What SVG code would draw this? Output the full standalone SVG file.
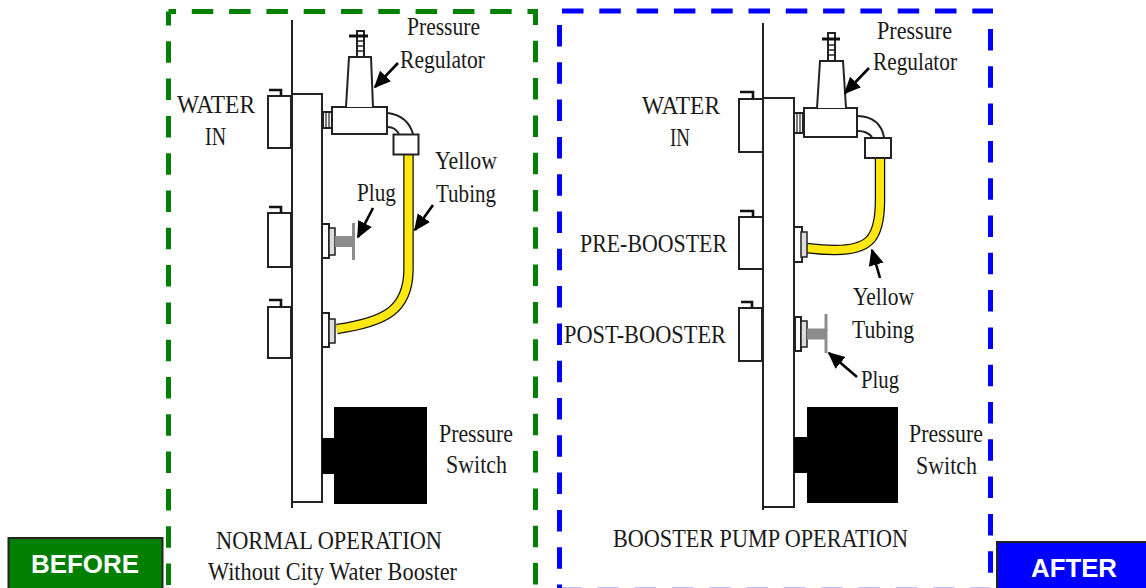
<svg xmlns="http://www.w3.org/2000/svg" width="1146" height="588" viewBox="0 0 1146 588">
<defs>
<marker id="ah" viewBox="0 0 10 10" refX="9" refY="5" markerWidth="6.500" markerHeight="6.500" orient="auto"><path d="M0 0.500L10 5L0 9.500Z" fill="#000"/></marker>
</defs>
<style>
.t{font-family:"Liberation Serif","DejaVu Serif",serif;fill:#1a1a1a;font-size:26px}
.l{fill:#fff;stroke:#222;stroke-width:2}
.g{fill:#ddd;stroke:#222;stroke-width:1.5}
.n{fill:none;stroke:#222;stroke-width:2}
.b{fill:none;stroke:#111;stroke-width:2.600}
.ar{fill:none;stroke:#000;stroke-width:2.600;marker-end:url(#ah)}
.btn{font-family:"Liberation Sans",Arial,sans-serif;font-weight:700;font-size:25px;fill:#fff}
.gd{fill:none;stroke:#008000;stroke-width:5;stroke-dasharray:21.5 15.8}
.bd{fill:none;stroke:#0000ff;stroke-width:5;stroke-dasharray:21.5 15.8}
.ty{fill:none;stroke:#111;stroke-width:10.500}
.ty2{fill:none;stroke:#ffe812;stroke-width:8}
.pg{stroke:#8c8c8c;fill:none}
</style>
<rect width="1146" height="588" fill="#fff"/>
<g id="before-frame">
<path class="gd" stroke-dashoffset="14" d="M168.500 11.500H535.500V600"/>
<path class="gd" stroke-dashoffset="7.500" d="M168.500 11.500V600"/>
</g>
<g id="after-frame">
<path class="bd" d="M562 11H993"/>
<path class="bd" d="M559.500 25V590"/>
<path class="bd" d="M990.500 29V590"/>
<path class="bd" style="stroke-width:5.500" d="M560 590.500H990"/>
</g>

<g id="before-diagram">
<path class="n" d="M292 20V508M292 94H322V502H292"/>
<path class="l" d="M268 96H291V148H268Z"/>
<path class="b" d="M269 90H281V96"/>
<path class="l" d="M268 213H291V267H268Z"/>
<path class="b" d="M269 207H281V213"/>
<path class="l" d="M268 307H291V358H268Z"/>
<path class="b" d="M269 300H281V307"/>
<rect class="l" x="323" y="112" width="9" height="16"/>
<path d="M326 112V128M329 112V128" stroke="#222" stroke-width="1.200"/>
<rect class="l" x="332" y="107" width="55" height="27"/>
<path class="l" d="M346 107L349 57H371L373 107"/>
<rect x="357" y="31" width="7" height="26" fill="#fff" stroke="#222" stroke-width="2"/>
<path d="M357 41H364M357 46H364M357 51H364" stroke="#222" stroke-width="1.500"/>
<path d="M349 36H368" stroke="#111" stroke-width="3"/>
<path class="n" d="M388 113Q408 116 413 134M388 127Q395 127 399 134"/>
<path class="ty" d="M408.500 154V270C408 310 385 322 337 329"/>
<path class="ty2" d="M408.500 154V270C408 310 385 322 337 329"/>
<rect class="l" x="393.500" y="134.500" width="25" height="20"/>
<rect class="l" x="322" y="224" width="7" height="34"/>
<rect class="g" x="329" y="228" width="6" height="27"/>
<path class="pg" stroke-width="11" d="M335 241.500H354"/>
<path class="pg" stroke-width="3" d="M353.500 223V260"/>
<rect class="l" x="322" y="313" width="7" height="34"/>
<rect class="g" x="329" y="319" width="6" height="24"/>
<rect x="334" y="407" width="93" height="97" fill="#000"/>
<rect x="322" y="438" width="13" height="36" fill="#000"/>
</g>

<g id="after-diagram">
<path class="n" d="M763 23V510M763 98H794V507H763"/>
<path class="l" d="M739 99H763V152H739Z"/>
<path class="b" d="M740 92H753V99"/>
<path class="l" d="M739 217H763V269H739Z"/>
<path class="b" d="M740 211H753V217"/>
<path class="l" d="M739 308H762V361H739Z"/>
<path class="b" d="M741 302H752V308"/>
<rect class="l" x="794" y="113" width="9" height="20"/>
<path d="M797 113V133M800 113V133" stroke="#222" stroke-width="1.200"/>
<rect class="l" x="804" y="108" width="53" height="29"/>
<path class="l" d="M817 108L820 61H843L846 108"/>
<rect x="828" y="33" width="7" height="28" fill="#fff" stroke="#222" stroke-width="2"/>
<path d="M828 45H835M828 50H835M828 55H835" stroke="#222" stroke-width="1.500"/>
<path d="M822 39H840" stroke="#111" stroke-width="3"/>
<path class="n" d="M858 116Q880 117 884 137M858 131Q867 131 872 137"/>
<path class="ty" d="M880 158V200C880 240 868 250 835 250C822 250 815 249 807 248"/>
<path class="ty2" d="M880 158V200C880 240 868 250 835 250C822 250 815 249 807 248"/>
<rect class="l" x="865" y="138" width="26" height="20"/>
<rect class="l" x="794" y="227" width="8" height="35"/>
<rect class="g" x="801" y="232" width="6" height="25"/>
<rect class="l" x="795" y="317" width="6" height="34"/>
<rect class="g" x="801" y="321" width="6" height="26"/>
<path class="pg" stroke-width="11" d="M807 334H826"/>
<path class="pg" stroke-width="3" d="M826 314V353"/>
<rect x="807" y="407" width="91" height="96" fill="#000"/>
<rect x="794" y="437" width="14" height="36" fill="#000"/>
</g>

<g id="connectors">
<path class="ar" d="M398 63L375 87"/>
<path class="ar" d="M373 208L358 237"/>
<path class="ar" d="M433 205L415 230"/>
<path class="ar" d="M869 68L845 93"/>
<path class="ar" d="M880 278L872 250"/>
<path class="ar" d="M857 377L829 353"/>
</g>

<g id="labels">
<text class="t" x="407" y="35" textLength="73" lengthAdjust="spacingAndGlyphs">Pressure</text>
<text class="t" x="400" y="68" textLength="85" lengthAdjust="spacingAndGlyphs">Regulator</text>
<text class="t" x="177" y="113" textLength="78" lengthAdjust="spacingAndGlyphs">WATER</text>
<text class="t" x="205" y="145" textLength="21" lengthAdjust="spacingAndGlyphs">IN</text>
<text class="t" x="435" y="169" textLength="62" lengthAdjust="spacingAndGlyphs">Yellow</text>
<text class="t" x="436" y="202" textLength="60" lengthAdjust="spacingAndGlyphs">Tubing</text>
<text class="t" x="357" y="201" textLength="39" lengthAdjust="spacingAndGlyphs">Plug</text>
<text class="t" x="439" y="442" textLength="74" lengthAdjust="spacingAndGlyphs">Pressure</text>
<text class="t" x="446" y="473" textLength="61" lengthAdjust="spacingAndGlyphs">Switch</text>
<text class="t" x="216" y="549" textLength="226" lengthAdjust="spacingAndGlyphs">NORMAL OPERATION</text>
<text class="t" x="208" y="580" textLength="249" lengthAdjust="spacingAndGlyphs">Without City Water Booster</text>
<text class="t" x="877" y="39" textLength="75" lengthAdjust="spacingAndGlyphs">Pressure</text>
<text class="t" x="873" y="70" textLength="84" lengthAdjust="spacingAndGlyphs">Regulator</text>
<text class="t" x="642" y="114" textLength="78" lengthAdjust="spacingAndGlyphs">WATER</text>
<text class="t" x="670" y="146" textLength="20" lengthAdjust="spacingAndGlyphs">IN</text>
<text class="t" x="580" y="252" textLength="147" lengthAdjust="spacingAndGlyphs">PRE-BOOSTER</text>
<text class="t" x="564" y="343" textLength="162" lengthAdjust="spacingAndGlyphs">POST-BOOSTER</text>
<text class="t" x="853" y="305" textLength="61" lengthAdjust="spacingAndGlyphs">Yellow</text>
<text class="t" x="852" y="338" textLength="62" lengthAdjust="spacingAndGlyphs">Tubing</text>
<text class="t" x="861" y="388" textLength="38" lengthAdjust="spacingAndGlyphs">Plug</text>
<text class="t" x="909" y="442" textLength="74" lengthAdjust="spacingAndGlyphs">Pressure</text>
<text class="t" x="916" y="474" textLength="61" lengthAdjust="spacingAndGlyphs">Switch</text>
<text class="t" x="613" y="547" textLength="295" lengthAdjust="spacingAndGlyphs">BOOSTER PUMP OPERATION</text>
</g>

<g id="before-badge"><rect x="8.500" y="538" width="154" height="52" fill="#008000" stroke="#222" stroke-width="2"/><text class="btn" x="31" y="573" textLength="108" lengthAdjust="spacingAndGlyphs">BEFORE</text></g>
<g id="after-badge"><rect x="997" y="542" width="150" height="48" fill="#0000ff" stroke="#222" stroke-width="2"/><text class="btn" x="1031" y="577" textLength="86" lengthAdjust="spacingAndGlyphs">AFTER</text></g>
</svg>
